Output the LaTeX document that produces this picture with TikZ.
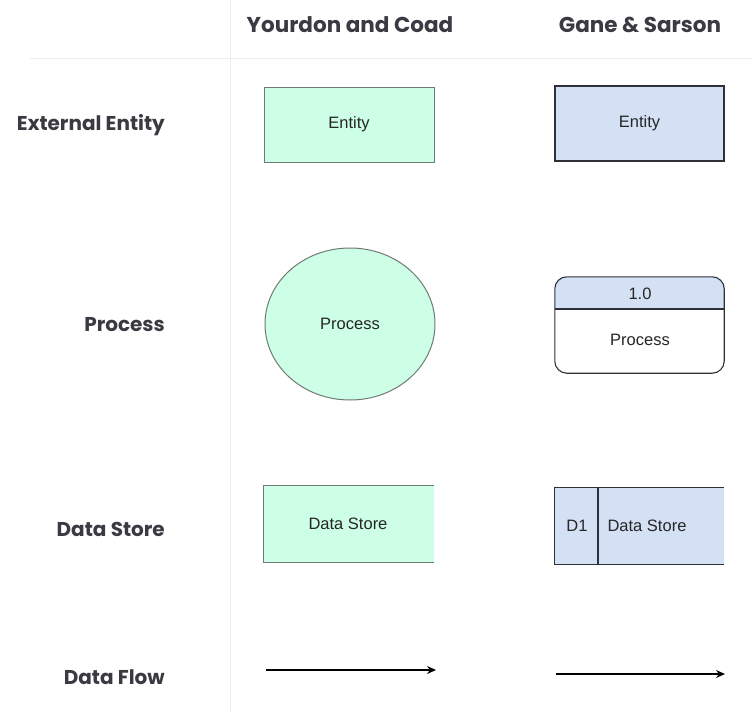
\documentclass[tikz,border=0pt]{standalone}
\usepackage{fontspec}
\setmainfont{Liberation Sans}
\newfontfamily\headfont{Poppins}
\usetikzlibrary{arrows.meta,shapes.geometric}
\definecolor{mint}{HTML}{CCFFE6}
\definecolor{gsblue}{HTML}{D4E1F5}
\definecolor{headgray}{HTML}{3A3A42}
\definecolor{mintline}{HTML}{707A74}
\definecolor{darkline}{HTML}{2E3138}
\definecolor{sepgray}{HTML}{EDEDED}
\tikzset{
  head/.style={font=\headfont\bfseries\fontsize{21.5}{25}\selectfont, text=headgray, inner sep=0},
  rowlab/.style={font=\headfont\bfseries\fontsize{20}{24}\selectfont, text=headgray, inner sep=0, anchor=east},
  shapetxt/.style={font=\fontsize{16.5}{19}\selectfont, text=black!85, inner sep=0},
  ycbox/.style={fill=mint, draw=mintline, line width=1, minimum width=170, minimum height=75, shapetxt},
  gsbox/.style={fill=gsblue, draw=darkline, line width=1.1, minimum width=169, minimum height=75, shapetxt},
  sep/.style={draw=sepgray, line width=1},
  flow/.style={line width=1.3, -{Stealth[length=9, width=8]}}
}
\begin{document}
\begin{tikzpicture}[x=1pt, y=-1pt]
\useasboundingbox[fill=white] (0,0) rectangle (752,712);
% separators
\coordinate (s1) at (30,58); \coordinate (s2) at (752,58);
\coordinate (v1) at (230,0); \coordinate (v2) at (230,712);
\draw[sep] (s1) -- (s2);
\draw[sep] (v1) -- (v2);
% headers
\node[head] (h1) at (350,25) {Yourdon and Coad};
\node[head] (h2) at (640,25) {Gane \& Sarson};
% row labels
\node[rowlab] (r1) at (165,125) {External Entity};
\node[rowlab] (r2) at (165,325) {Process};
\node[rowlab] (r3) at (165,529) {Data Store};
\node[rowlab] (r4) at (165,677) {Data Flow};
% external entity
\node[ycbox] (ye) at (349,124.5) {Entity};
\node[gsbox] (ge) at (639.5,123.5) {Entity};
% process
\node[ellipse, fill=mint, draw=mintline, line width=1, minimum width=170, minimum height=152, shapetxt] (yp) at (350,324) {Process};
\node[minimum width=169, minimum height=96, inner sep=0] (gp) at (639.5,325) {};
\coordinate (gpl) at (555,309); \coordinate (gpr) at (724,309);
\begin{scope}
  \clip[rounded corners=12] (gp.south west) rectangle (gp.north east);
  \fill[white] (gp.south west) rectangle (gp.north east);
  \fill[gsblue] (gp.north west) rectangle (gpr);
\end{scope}
\draw[darkline, line width=1.1, rounded corners=12] (gp.south west) rectangle (gp.north east);
\draw[darkline, line width=1.1] (gpl) -- (gpr);
\node[shapetxt] (gpn) at (640,294) {1.0};
\node[shapetxt] (gpt) at (640,340) {Process};
% data store
\node[fill=mint, minimum width=170, minimum height=76, inner sep=0] (ys) at (349,524) {};
\draw[mintline, line width=1] (ys.north east) -- (ys.north west) -- (ys.south west) -- (ys.south east);
\node[shapetxt] (yst) at (348,524) {Data Store};
\node[fill=gsblue, minimum width=169, minimum height=76, inner sep=0] (gs) at (639.5,526) {};
\draw[darkline, line width=1.1] (gs.north east) -- (gs.north west) -- (gs.south west) -- (gs.south east);
\coordinate (gd1) at (598,488); \coordinate (gd2) at (598,564);
\draw[darkline, line width=2.2] (gd1) -- (gd2);
\node[shapetxt] (gsd) at (577,526) {D1};
\node[shapetxt] (gst) at (647,526) {Data Store};
% data flow
\coordinate (a1) at (266,670); \coordinate (a2) at (436,670);
\coordinate (b1) at (556,674); \coordinate (b2) at (725,674);
\draw[flow] (a1) -- (a2);
\draw[flow] (b1) -- (b2);
\end{tikzpicture}
\end{document}
